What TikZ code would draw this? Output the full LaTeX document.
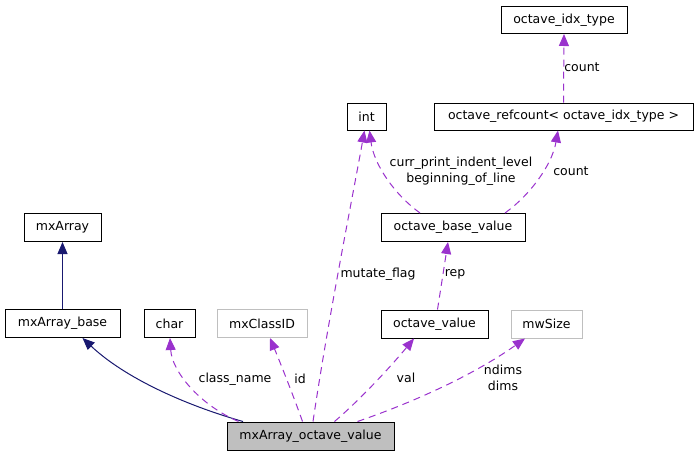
\documentclass[tikz,border=0pt]{standalone}
\usepackage{fontspec}
\setmainfont{DejaVu Sans}
\usetikzlibrary{arrows.meta}
\definecolor{edgepurple}{HTML}{9A32CD}
\definecolor{edgenavy}{HTML}{191970}
\definecolor{lightborder}{HTML}{BFBFBF}
\definecolor{hifill}{HTML}{BFBFBF}
\tikzset{
  cls/.style={draw=black, line width=1pt, fill=white, inner sep=0pt, minimum height=28pt,
    font=\fontsize{12.5}{14}\selectfont},
  ext/.style={cls, draw=lightborder},
  hi/.style={cls, fill=hifill},
  usage/.style={draw=edgepurple, line width=1pt, dash pattern=on 7pt off 5pt,
    -{Triangle[length=12pt,width=10pt,fill=edgepurple]}},
  inherit/.style={draw=edgenavy, line width=1pt,
    -{Triangle[length=12pt,width=10pt,fill=edgenavy]}},
  lbl/.style={font=\fontsize{12.5}{16}\selectfont, align=center, inner sep=0pt}
}
\begin{document}
\begin{tikzpicture}[x=1pt,y=-1pt]
\useasboundingbox (0,0) rectangle (699,456);
% nodes
\node[cls, minimum width=126pt, minimum height=27pt] (idx) at (564,20) {octave\_idx\_type};
\node[cls, minimum width=259pt, minimum height=27pt] (refc) at (563.5,116.5) {octave\_refcount< octave\_idx\_type >};
\node[cls, minimum width=39pt, minimum height=27pt] (int) at (366.5,116.5) {int};
\node[cls, minimum width=144pt] (obv) at (453,227.5) {octave\_base\_value};
\node[cls, minimum width=107pt] (ov) at (434.5,324) {octave\_value};
\node[ext, minimum width=71pt] (mw) at (546.5,324) {mwSize};
\node[hi, minimum width=167pt] (mxov) at (310.5,436) {mxArray\_octave\_value};
\node[cls, minimum width=77pt] (mxa) at (62.5,227.5) {mxArray};
\node[cls, minimum width=115pt] (mxb) at (62.5,323.5) {mxArray\_base};
\node[cls, minimum width=51pt] (char) at (169.5,323.5) {char};
\node[ext, minimum width=90pt] (cid) at (262,323.5) {mxClassID};
% inheritance
\draw[inherit] (mxb.north) -- (mxa.south);
\draw[inherit] ([xshift=-67.5pt]mxov.north) .. controls (185,405) and (125,378) .. ([xshift=20pt]mxb.south);
% usage
\draw[usage] ([xshift=-72pt]mxov.north) .. controls (200,405) and (172,372) .. ([xshift=0.5pt]char.south);
\draw[usage] ([xshift=-8pt]mxov.north) .. controls (295,400) and (280,362) .. ([xshift=8pt]cid.south);
\draw[usage] ([xshift=2.5pt]mxov.north) .. controls (328,320) and (352,200) .. ([xshift=-2pt]int.south);
\draw[usage] ([xshift=-33pt]obv.north) .. controls (395,195) and (374,165) .. ([xshift=3pt]int.south);
\draw[usage] ([xshift=52pt]obv.north) .. controls (530,195) and (552,165) .. ([xshift=-5.5pt]refc.south);
\draw[usage] (refc.north) -- (idx.north |- idx.south);
\draw[usage] ([xshift=3pt]ov.north) -- ([xshift=-5pt]obv.south);
\draw[usage] ([xshift=24pt]mxov.north) .. controls (362,398) and (392,365) .. ([xshift=-20.5pt]ov.south);
\draw[usage] ([xshift=47pt]mxov.north) .. controls (420,400) and (478,372) .. ([xshift=-21.5pt]mw.south);
% labels
\node[lbl] (l1) at (235,379) {class\_name};
\node[lbl] (l2) at (300,379) {id};
\node[lbl] (l3) at (378,274) {mutate\_flag};
\node[lbl] (l4) at (455,274) {rep};
\node[lbl] (l5) at (461,171) {curr\_print\_indent\_level\\beginning\_of\_line};
\node[lbl] (l6) at (571,171) {count};
\node[lbl] (l7) at (582,67) {count};
\node[lbl] (l8) at (406,378) {val};
\node[lbl] (l9) at (503,378) {ndims\\dims};
\end{tikzpicture}
\end{document}
